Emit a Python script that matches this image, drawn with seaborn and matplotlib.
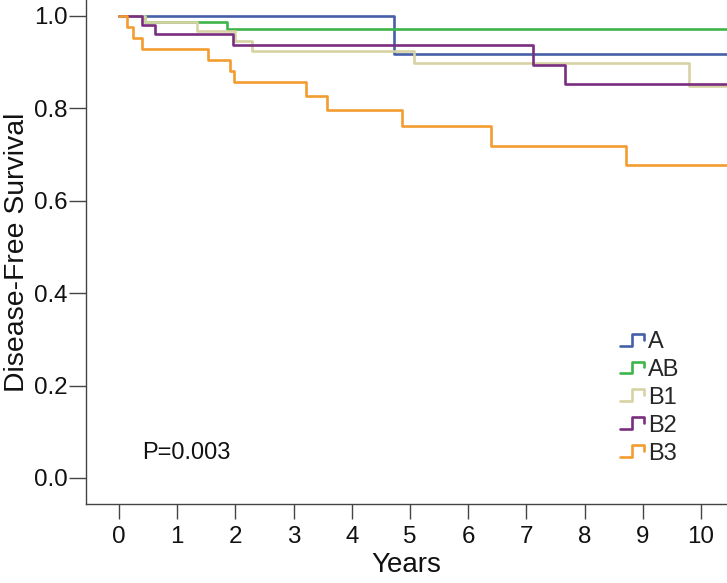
import matplotlib
matplotlib.use("Agg")
import matplotlib.pyplot as plt
import seaborn as sns
import pandas as pd
from matplotlib.lines import Line2D
from matplotlib.legend_handler import HandlerBase

groups = ["A", "AB", "B1", "B2", "B3"]
colors = ["#4560a8", "#3db54a", "#d6d2a4", "#7a2e80", "#f39c2f"]

times_A = [0, 4.73, 10.5]
surv_A = [1.0, 0.918, 0.918]
times_AB = [0, 0.44, 1.85, 10.5]
surv_AB = [1.0, 0.987, 0.972, 0.972]
times_B1 = [0, 0.45, 1.335, 1.99, 2.28, 5.07, 9.8, 10.5]
surv_B1 = [1.0, 0.987, 0.967, 0.945, 0.925, 0.899, 0.848, 0.848]
times_B2 = [0, 0.39, 0.62, 1.96, 7.12, 7.66, 10.5]
surv_B2 = [1.0, 0.981, 0.961, 0.938, 0.894, 0.852, 0.852]
times_B3 = [0, 0.13, 0.235, 0.40, 1.53, 1.91, 1.98, 3.22, 3.58, 4.87, 6.40, 8.72, 10.5]
surv_B3 = [1.0, 0.976, 0.952, 0.929, 0.905, 0.881, 0.857, 0.826, 0.797, 0.762, 0.719, 0.677, 0.677]

x_ticks = list(range(0, 11))
y_ticks = [0.0, 0.2, 0.4, 0.6, 0.8, 1.0]
p_text = "P=0.003"

all_t = [times_A, times_AB, times_B1, times_B2, times_B3]
all_s = [surv_A, surv_AB, surv_B1, surv_B2, surv_B3]
rows = []
for g, ts, ss in zip(groups, all_t, all_s):
    for i, (t, s) in enumerate(zip(ts, ss)):
        rows.append({"Years": t, "Survival": s, "Group": g, "order": i})
df = pd.DataFrame(rows)

sns.set_theme(style="white")
plt.rcParams["font.family"] = ["Liberation Sans", "DejaVu Sans"]

fig = plt.figure(figsize=(7.27, 5.83), dpi=100)
ax = fig.add_axes([86 / 727, 79 / 583, 1 - 86 / 727, 1 - 79 / 583])

sns.lineplot(data=df, x="Years", y="Survival", hue="Group", hue_order=groups,
             palette=colors, estimator=None, sort=False, drawstyle="steps-post",
             linewidth=1.9, ax=ax, legend=False)

ax.set_xlim(-0.567, 10.447)
ax.set_ylim(-0.0563, 1.0346)
ax.set_xticks(x_ticks)
ax.set_xticklabels([str(v) for v in x_ticks])
ax.set_yticks(y_ticks)
ax.set_yticklabels([f"{v:.1f}" for v in y_ticks])

for s in ["top", "right"]:
    ax.spines[s].set_visible(False)
for s in ["left", "bottom"]:
    ax.spines[s].set_color("#444444")
    ax.spines[s].set_linewidth(1.0)

ax.tick_params(axis="y", length=12, width=1.0, color="#444444", pad=1, labelsize=17.4, labelcolor="#111111", left=True)
ax.tick_params(axis="x", length=11, width=1.0, color="#444444", pad=5, labelsize=17.4, labelcolor="#111111", bottom=True)

ax.set_xlabel("Years", fontsize=20, color="#111111", labelpad=3)
ax.set_ylabel("Disease-Free Survival", fontsize=20.4, color="#111111", labelpad=3)

ax.text(0.39, 0.054, p_text, fontsize=17, color="#111111", ha="left", va="center")


class StepHandler(HandlerBase):
    def create_artists(self, legend, orig_handle, xdescent, ydescent, width, height, fontsize, trans):
        x0, y0 = -xdescent, -ydescent
        xs = [x0, x0 + 0.5 * width, x0 + 0.5 * width, x0 + width, x0 + width]
        ys = [y0, y0, y0 + height, y0 + height, y0 + 0.5 * height]
        line = Line2D(xs, ys, color=orig_handle.get_color(), linewidth=1.9, transform=trans)
        return [line]


handles = [Line2D([], [], color=c) for c in colors]
fig.legend(handles, groups, handler_map={Line2D: StepHandler()}, loc="upper left",
           bbox_to_anchor=(620 / 727, 1 - 331 / 583), bbox_transform=fig.transFigure,
           frameon=False, fontsize=17, handlelength=1.0, handleheight=0.4,
           handletextpad=0.2, labelspacing=0.25, borderpad=0, borderaxespad=0)

fig.savefig("out.png", dpi=100)
